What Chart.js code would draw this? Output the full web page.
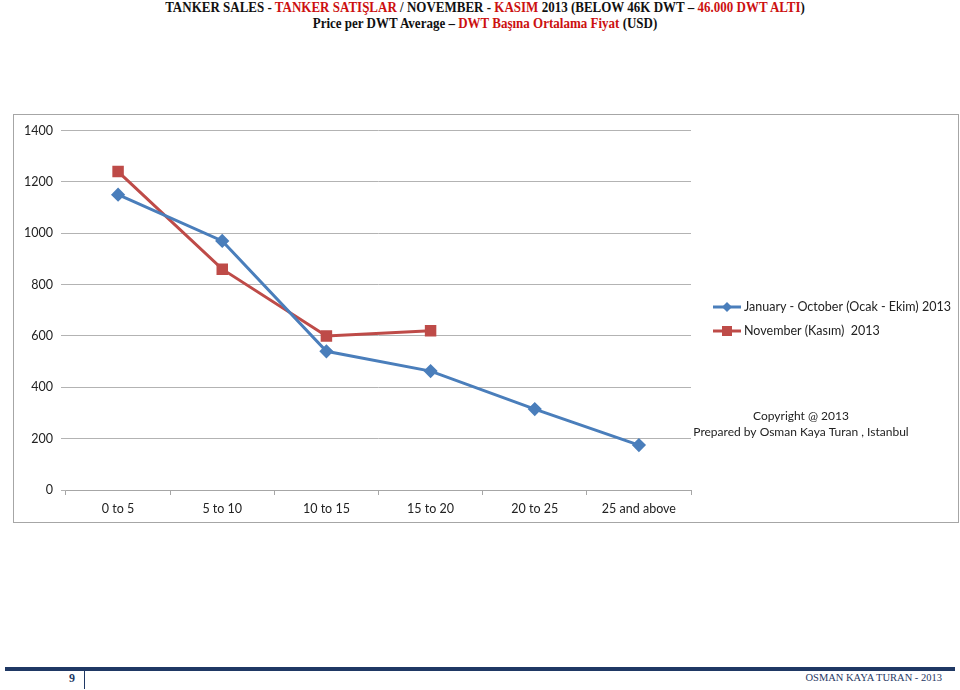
<!DOCTYPE html>
<html>
<head>
<meta charset="utf-8">
<script src="https://cdn.jsdelivr.net/npm/chart.js@4.4.0/dist/chart.umd.min.js"></script>
<style>
  body { margin: 0; width: 960px; height: 690px; background: #fff; position: relative; overflow: hidden; }
  .title { position: absolute; left: 0; width: 970px; text-align: center; font-family: "Liberation Serif", serif; font-weight: bold; font-size: 13px; color: #111; white-space: nowrap; transform: scaleY(1.12); }
  .title .r { color: #cc1010; }
  #t1 { top: 0px; }
  #t2 { top: 16px; }
  #frame { position: absolute; left: 13px; top: 114px; width: 944px; height: 407px; border: 1px solid #a6a6a6; }
  #frame canvas { position: absolute; left: 0; top: 0; }
  #bar { position: absolute; left: 5px; top: 667px; width: 950px; height: 4px; background: #1f3864; }
  #vline { position: absolute; left: 84px; top: 671px; width: 1px; height: 18px; background: #1f3864; }
  #page { position: absolute; left: 69px; top: 671px; font-family: "Liberation Serif", serif; font-weight: bold; font-size: 12px; color: #1f3864; }
  #foot { position: absolute; right: 18px; top: 672px; font-family: "Liberation Serif", serif; font-size: 10.5px; color: #1f3864; }
</style>
</head>
<body>
<div class="title" id="t1">TANKER SALES - <span class="r">TANKER SATIŞLAR</span> / NOVEMBER - <span class="r">KASIM</span> 2013 (BELOW 46K DWT – <span class="r">46.000 DWT ALTI</span>)</div>
<div class="title" id="t2">Price per DWT Average – <span class="r">DWT Başına Ortalama Fiyat</span> (USD)</div>
<div id="frame"><canvas id="chart" width="944" height="407"></canvas></div>
<div id="bar"></div>
<div id="vline"></div>
<div id="page">9</div>
<div id="foot">OSMAN KAYA TURAN - 2013</div>
<script>
const categories = ['0 to 5', '5 to 10', '10 to 15', '15 to 20', '20 to 25', '25 and above'];
const janOctValues = [1150, 970, 540, 463, 315, 175];
const novemberValues = [1240, 860, 600, 620];
const yTicks = [0, 200, 400, 600, 800, 1000, 1200, 1400];
const seriesLabels = ['January - October (Ocak - Ekim) 2013', 'November (Kasım)  2013'];
const copyrightLines = ['Copyright @ 2013', 'Prepared by Osman Kaya Turan , Istanbul'];

const labelFont = 'Lato, "Liberation Sans", sans-serif';

// legend + copyright drawn to the right of the plot, like the Excel original
const sideLegend = {
    id: 'sideLegend',
    afterDraw(chart) {
        const ctx = chart.ctx;
        const x0 = 699;
        ctx.save();
        ctx.font = '12.5px ' + labelFont;
        ctx.textBaseline = 'middle';
        chart.data.datasets.forEach((ds, i) => {
            const y = 192 + i * 24;
            ctx.strokeStyle = ds.borderColor;
            ctx.lineWidth = 3;
            ctx.beginPath();
            ctx.moveTo(x0, y);
            ctx.lineTo(x0 + 28, y);
            ctx.stroke();
            ctx.fillStyle = ds.borderColor;
            ctx.beginPath();
            if (ds.pointStyle === 'rectRot') {
                ctx.moveTo(x0 + 14, y - 5);
                ctx.lineTo(x0 + 19, y);
                ctx.lineTo(x0 + 14, y + 5);
                ctx.lineTo(x0 + 9, y);
            } else {
                ctx.rect(x0 + 9, y - 5, 10, 10);
            }
            ctx.fill();
            ctx.fillStyle = '#222';
            ctx.textAlign = 'left';
            ctx.fillText(ds.label, x0 + 31, y);
        });
        ctx.font = '12px ' + labelFont;
        ctx.textAlign = 'center';
        ctx.fillStyle = '#222';
        copyrightLines.forEach((t, i) => ctx.fillText(t, 787, 301 + i * 16));
        ctx.restore();
    }
};

new Chart(document.getElementById('chart'), {
    type: 'line',
    data: {
        labels: categories,
        datasets: [{
            label: seriesLabels[0],
            data: janOctValues,
            borderColor: '#4a7ebb',
            backgroundColor: '#4a7ebb',
            borderWidth: 3,
            pointStyle: 'rectRot',
            pointRadius: 5,
            pointHoverRadius: 5,
            tension: 0
        }, {
            label: seriesLabels[1],
            data: novemberValues,
            borderColor: '#be4b48',
            backgroundColor: '#be4b48',
            borderWidth: 3,
            pointStyle: 'rect',
            pointRadius: 6,
            pointHoverRadius: 6,
            tension: 0
        }]
    },
    options: {
        responsive: false,
        animation: false,
        layout: { padding: { left: 0, right: 267, top: 15, bottom: 0 } },
        plugins: {
            legend: { display: false },
            title: { display: false },
            tooltip: { enabled: false }
        },
        scales: {
            x: {
                offset: true,
                grid: { offset: true, drawOnChartArea: false, drawTicks: true, tickLength: 5, color: '#a6a6a6' },
                border: { display: true, color: '#a6a6a6', width: 1 },
                ticks: { color: '#222', font: { family: labelFont, size: 12.5 }, padding: 6, maxRotation: 0 },
                afterFit(scale) { scale.height = 32; }
            },
            y: {
                min: 0,
                max: 1400,
                afterBuildTicks(scale) { scale.ticks = yTicks.map(v => ({ value: v })); },
                grid: { color: '#b3b3b3', lineWidth: 1, drawTicks: true, tickLength: 5 },
                border: { display: false },
                ticks: { color: '#222', font: { family: labelFont, size: 12.5 }, padding: 8, callback: v => String(v) },
                afterFit(scale) { scale.width = 52; }
            }
        }
    },
    plugins: [sideLegend]
});
</script>
</body>
</html>
